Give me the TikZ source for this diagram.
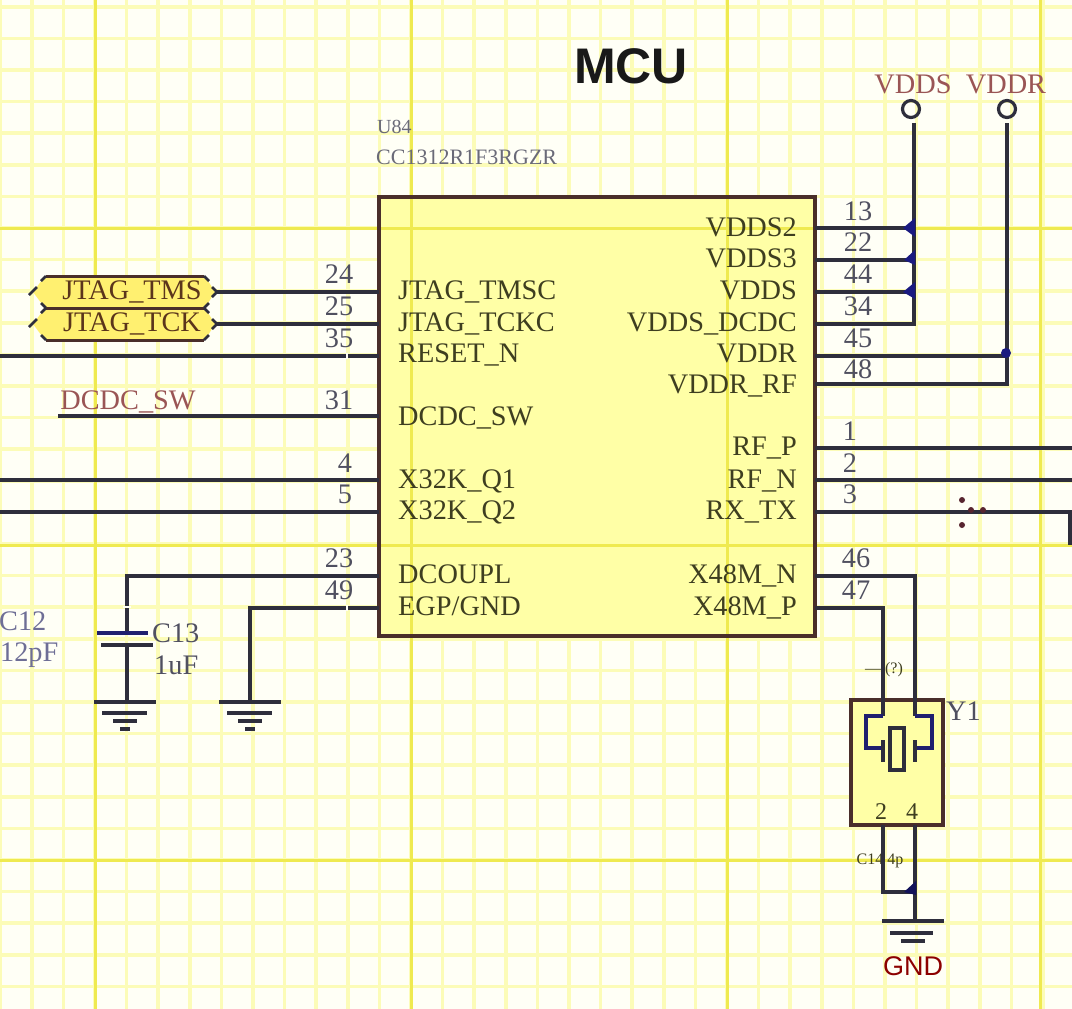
\documentclass[tikz,border=0pt]{standalone}
\usepackage{fontspec}
\setmainfont{Liberation Serif}
\newfontfamily\hsans{Liberation Sans}
\definecolor{paper}{HTML}{FFFFF6}
\definecolor{minorg}{HTML}{FCFCB8}
\definecolor{majorg}{HTML}{EFEA50}
\definecolor{chipf}{HTML}{FFFFA6}
\definecolor{portf}{HTML}{FFF070}
\definecolor{wirec}{HTML}{2E2E3C}
\definecolor{edgec}{HTML}{4A2E2A}
\definecolor{navyc}{HTML}{1A1A80}
\definecolor{pinc}{HTML}{3E3E20}
\definecolor{numc}{HTML}{505060}
\definecolor{netc}{HTML}{9A5555}
\definecolor{capc}{HTML}{6E6E96}
\tikzset{
  x=1pt,y=-1pt,
  wire/.style={draw=wirec,line width=3.4pt},
  bluew/.style={draw=navyc!75!wirec,line width=3.4pt},
  labelt/.style={inner sep=0pt,font=\fontsize{28.3}{28.3}\selectfont},
  pinname/.style={labelt,text=pinc},
  pinL/.style={pinname,anchor=base west},
  pinR/.style={pinname,anchor=base east},
  pinno/.style={labelt,text=numc,anchor=base},
  netname/.style={labelt,text=netc,anchor=base},
  junct/.style={fill=navyc,draw=none},
  gapmark/.style={draw=paper,line width=2.5pt},
}
\begin{document}
\begin{tikzpicture}
\useasboundingbox (0,0) rectangle (1072,1009);
\fill[paper] (0,0) rectangle (1072,1009);
% minor grid
\foreach \k in {-3,...,31} \draw[minorg,line width=3.6pt] ({95+31.6*\k},0) -- ({95+31.6*\k},1009);
\foreach \k in {-8,...,25} \draw[minorg,line width=3.6pt] (0,{228+31.6*\k}) -- (1072,{228+31.6*\k});
% fills
\node[fill=chipf,draw=none,minimum width=436pt,minimum height=439pt,inner sep=0pt] (chip) at (597,416.5) {};
\node[fill=chipf,draw=none,minimum width=92pt,minimum height=125pt,inner sep=0pt] (xtal) at (897,762.5) {};
% major grid
\foreach \x in {95,411,727,1040} \draw[majorg,line width=3pt] (\x,0) -- (\x,1009);
\foreach \y in {228,545,860} \draw[majorg,line width=3pt] (0,\y) -- (1072,\y);
% chip outline
\draw[edgec,line width=3.2pt] (379,197) rectangle (815,636);
\draw[edgec,line width=3.2pt] (851,700) rectangle (943,825);
% title
\node[inner sep=0pt,font=\hsans\bfseries\fontsize{50}{50}\selectfont,text=black!90,anchor=base] (title) at (631,83) {MCU};
\node[inner sep=0pt,font=\fontsize{20}{20}\selectfont,text=numc!85,anchor=base west] (refdes) at (377,133) {U84};
\node[inner sep=0pt,font=\fontsize{22}{22}\selectfont,text=numc!85,anchor=base west] (part) at (376,164) {CC1312R1F3RGZR};
% pin coordinates
\foreach \n/\y in {24/292,25/324,35/356,31/416,4/480,5/512,23/576,49/608} \coordinate (L\n) at (379,\y);
\foreach \n/\y in {13/228,22/260,44/292,34/324,45/356,48/384,1/448,2/480,3/512,46/576,47/608} \coordinate (R\n) at (815,\y);
% pin names
\foreach \t/\y in {JTAG\_TMSC/299,JTAG\_TCKC/331,RESET\_N/362,DCDC\_SW/425,X32K\_Q1/488,X32K\_Q2/519,DCOUPL/583,{EGP/GND}/615}
  \node[pinL] at (398,\y) {\t};
\foreach \t/\y in {VDDS2/236,VDDS3/267,VDDS/299,VDDS\_DCDC/331,VDDR/362,VDDR\_RF/393,RF\_P/455,RF\_N/488,RX\_TX/519,X48M\_N/583,X48M\_P/615}
  \node[pinR] at (797,\y) {\t};
% pin numbers
\foreach \t/\x/\y in {24/339/283,25/339/315,35/339/347,31/339/409,4/345/472,5/345/503,23/339/567,49/339/599,
  13/858/220,22/858/251,44/858/283,34/858/315,45/858/347,48/858/378,1/850/440,2/850/472,3/850/503,46/856/567,47/856/599}
  \node[pinno] at (\x,\y) {\t};
% JTAG ports
\foreach \nm/\txt/\y in {tms/JTAG\_TMS/292,tck/JTAG\_TCK/324}{
  \fill[portf] (45,\y-16) -- (205,\y-16) -- (215,\y) -- (205,\y+16) -- (45,\y+16) -- (33,\y) -- cycle;
  \node[labelt,text=pinc!85!red,anchor=base] (\nm) at (132,\y+7) {\txt};
  \coordinate (\nm E) at (217,\y);
  \draw[edgec,line width=3pt] (46,\y-16) -- (204,\y-16);
  \draw[edgec,line width=3pt] (46,\y+16) -- (204,\y+16);
  \draw[wirec,line width=2.5pt] (204,\y-16) -- (209,\y-11);
  \draw[wirec,line width=2.5pt] (204,\y+16) -- (209,\y+11);
  \draw[wirec,line width=2.5pt] (212,\y-5) -- (217,\y) -- (212,\y+5);
  \draw[wirec,line width=2.5pt] (46,\y-16) -- (41,\y-11);
  \draw[wirec,line width=2.5pt] (46,\y+16) -- (41,\y+11);
  \draw[wirec,line width=2.5pt] (37,\y-5) -- (29,\y+3);
}
\draw[wire] (tmsE) -- (L24);
\draw[wire] (tckE) -- (L25);
% left free wires
\coordinate (e35) at (0,356);
\coordinate (e4) at (0,480);
\coordinate (e5) at (0,512);
\coordinate (eSW) at (58,416);
\draw[wire] (e35) -- (L35);
\draw[wire] (e4) -- (L4);
\draw[wire] (e5) -- (L5);
\draw[wire] (eSW) -- (L31);
\node[netname] (swnet) at (128,409) {DCDC\_SW};
% C13 + grounds
\coordinate (capT) at (127,633);
\coordinate (capB) at (127,645);
\coordinate (gnda) at (125,702);
\coordinate (gndb) at (250,702);
\draw[wire] (L23) -| (capT);
\draw[wire] (capB) -- (gnda -| capB);
\draw[bluew] (97,633) -- (148,633);
\draw[wire] (101,645) -- (153,645);
\draw[wire] (L49) -| (gndb);
\foreach \c in {125,250}{
  \draw[wire] (\c-31,702) -- (\c+31,702);
  \draw[wire] (\c-23,713) -- (\c+22,713);
  \draw[wire] (\c-12,721) -- (\c+12,721);
  \draw[wire] (\c-5,729) -- (\c+5,729);
}
\node[labelt,text=numc,anchor=base west] (c13) at (152,642) {C13};
\node[labelt,text=numc,anchor=base west] (c13v) at (154,674) {1uF};
\node[labelt,text=capc,anchor=base west] (c12) at (-1,630) {C12};
\node[labelt,text=capc,anchor=base west] (c12v) at (0,661) {12pF};
% power rails
\draw[wirec,line width=3.2pt] (911,109) circle (8.5);
\draw[wirec,line width=3.2pt] (1007,109) circle (8.5);
\node[netname] (vdds) at (913,93) {VDDS};
\node[netname] (vddr) at (1006,93) {VDDR};
\coordinate (vddsT) at (914,123);
\coordinate (vddrT) at (1007,123);
\draw[wire] (vddsT) |- (R34);
\draw[wire] (vddrT) |- (R48);
\draw[wire] (R13) -- (R13 -| vddsT);
\draw[wire] (R22) -- (R22 -| vddsT);
\draw[wire] (R44) -- (R44 -| vddsT);
\draw[wire] (R45) -- (R45 -| vddrT);
\fill[junct] (903,228) -- (915,218) -- (915,237) -- cycle;
\fill[junct] (904,260) -- (915,250) -- (915,265) -- cycle;
\fill[junct] (903,292) -- (915,282) -- (915,299) -- cycle;
\fill[junct] (1006,353) circle (5);
% RF nets
\coordinate (e1) at (1072,448);
\coordinate (e2) at (1072,480);
\coordinate (e3) at (1070,545);
\draw[wire] (R1) -- (e1);
\draw[wire] (R2) -- (e2);
\draw[wire] (R3) -| (e3);
\foreach \p in {(962,500),(962,525),(971,510),(983,510)} \fill[wirec!80!red] \p circle (3);
% crystal
\coordinate (xa) at (883,716);
\coordinate (xb) at (915,716);
\draw[wire] (R47) -| (xa);
\draw[wire] (R46) -| (xb);
\draw[bluew] (xa) -- (866,716) -- (866,748) -- (883,748);
\draw[bluew] (xb) -- (932,716) -- (932,748) -- (915,748);
\draw[wire] (883,740) -- (883,762);
\draw[wire] (915,740) -- (915,762);
\draw[wire] (890,728) rectangle (904,770);
\node[labelt,text=pinc,font=\fontsize{24}{24}\selectfont,anchor=base] (pa) at (881,819) {2};
\node[labelt,text=pinc,font=\fontsize{24}{24}\selectfont,anchor=base] (pb) at (912,819) {4};
\node[labelt,text=numc,anchor=base west] (y1) at (946,720) {Y1};
\node[inner sep=0pt,font=\fontsize{16}{16}\selectfont,text=pinc,anchor=base] (xtop) at (884,673) {— (?)};
\node[inner sep=0pt,font=\fontsize{16}{16}\selectfont,text=pinc,anchor=base] (xbot) at (880,864) {C14 4p};
\coordinate (xg) at (915,921);
\draw[wire] (883,825) -- (883,892) -- (915,892);
\draw[wire] (915,825) -- (xg);
\fill[navyc!70!black] (904,892) -- (916,881) -- (916,895) -- cycle;
\draw[wire] (882,921) -- (944,921);
\draw[wire] (890,933) -- (933,933);
\draw[wire] (901,941) -- (925,941);
\node[inner sep=0pt,font=\hsans\fontsize{27}{27}\selectfont,text=red!55!black,anchor=base] (gnd) at (913,975) {GND};
% grid gaps across wires
\draw[gapmark] (347,353) -- (347,359);
\draw[gapmark] (347,605) -- (347,611);
\draw[gapmark] (123,607) -- (131,607);
\end{tikzpicture}
\end{document}
